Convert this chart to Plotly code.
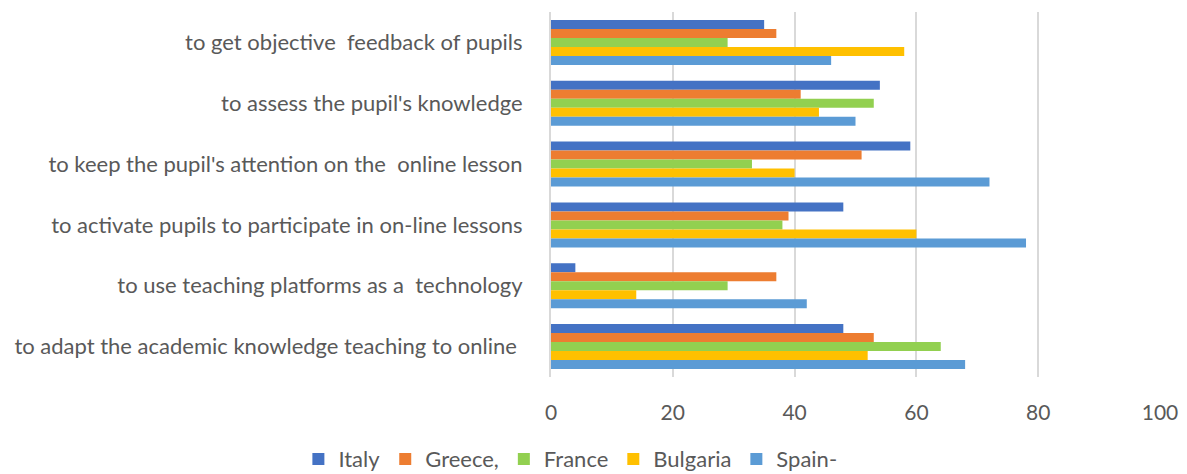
import plotly.graph_objects as go

categories = [
    "to get objective  feedback of pupils",
    "to assess the pupil's knowledge",
    "to keep the pupil's attention on the  online lesson",
    "to activate pupils to participate in on-line lessons",
    "to use teaching platforms as a  technology",
    "to adapt the academic knowledge teaching to online ",
]
series_names = ["Italy", "Greece,", "France", "Bulgaria", "Spain-"]
italy = [35, 54, 59, 48, 4, 48]
greece = [37, 41, 51, 39, 37, 53]
france = [29, 53, 33, 38, 29, 64]
bulgaria = [58, 44, 40, 60, 14, 52]
spain = [46, 50, 72, 78, 42, 68]
colors = ["#4472C4", "#ED7D31", "#92D050", "#FFC000", "#5B9BD5"]
x_ticks = [0, 20, 40, 60, 80, 100]

values = [italy, greece, france, bulgaria, spain]

fig = go.Figure()
for name, vals, col in zip(series_names, values, colors):
    fig.add_trace(go.Bar(
        y=categories, x=vals, name=name, orientation="h",
        marker=dict(color=col, line=dict(width=0)),
    ))

font_color = "#595959"
# page body has an 8px default margin, so the figure is 8px smaller than the window
fig.update_layout(
    width=1179, height=466,
    barmode="group", bargap=0.26, bargroupgap=0,
    plot_bgcolor="white", paper_bgcolor="white",
    font=dict(family="Lato, 'Open Sans', sans-serif", size=22, color=font_color),
    margin=dict(l=543, r=27, t=4, b=97, autoexpand=False),
    showlegend=True,
    legend=dict(orientation="h", x=0.477, xanchor="center", xref="container",
                y=0.032, yanchor="middle", yref="container",
                traceorder="normal", font=dict(size=22, color=font_color),
                itemwidth=30, tracegroupgap=0),
)
fig.update_xaxes(
    range=[0, 100], tickvals=x_ticks, showgrid=True, gridcolor="#D9D9D9", gridwidth=2,
    zeroline=False, showline=False, ticks="", ticklabelstandoff=21,
    tickfont=dict(size=21, color=font_color),
)
fig.update_yaxes(
    autorange="reversed", showgrid=False, showline=True, linecolor="#D9D9D9", linewidth=2,
    ticks="", ticklabelstandoff=22, tickfont=dict(size=22, color=font_color),
)

fig.write_html("out.html")
